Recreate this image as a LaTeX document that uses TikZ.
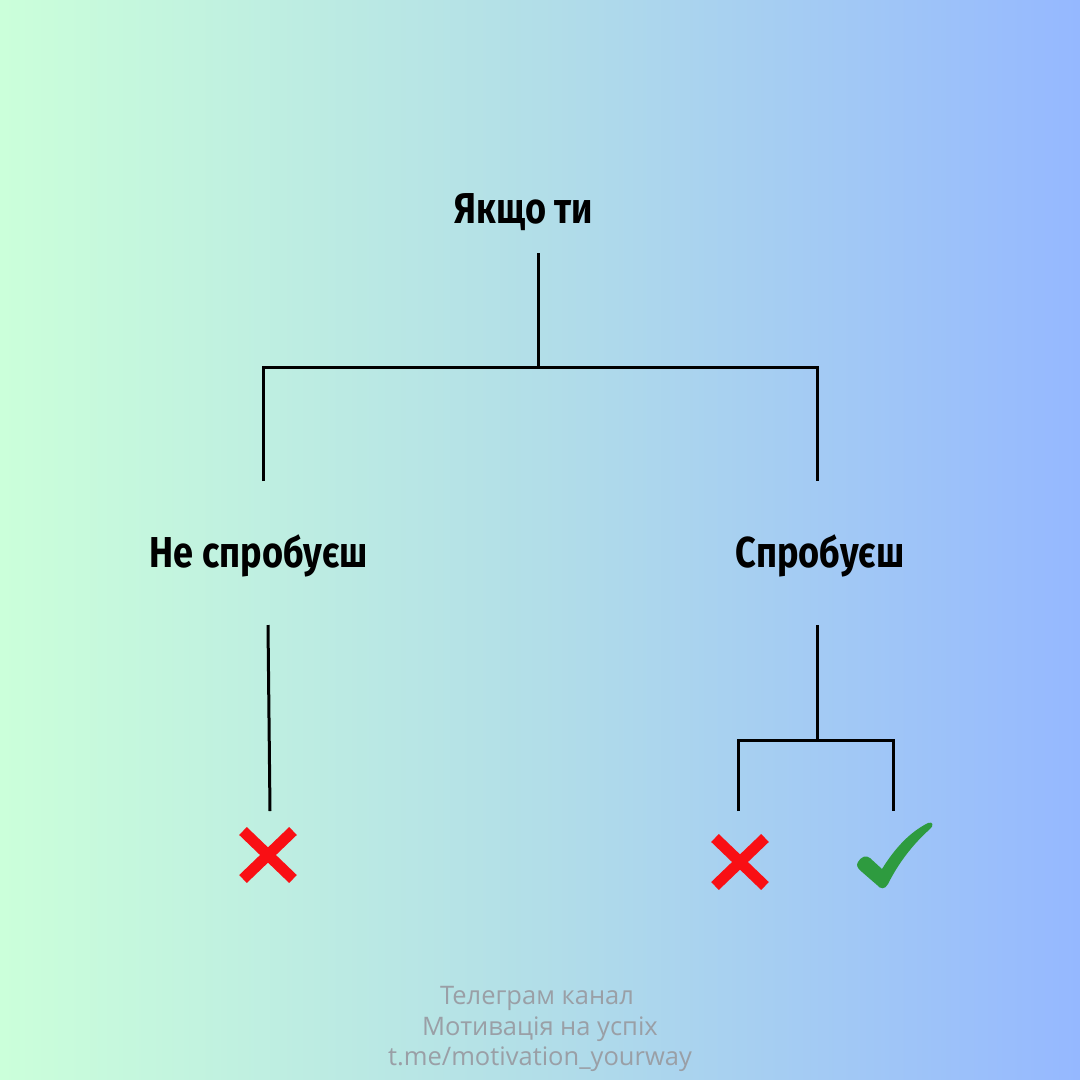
\documentclass[tikz,border=0pt]{standalone}
\usepackage{fontspec}
\usetikzlibrary{calc}
\setmainfont{Fira Sans}
\newfontfamily\footfont{Open Sans}
\definecolor{bgleft}{HTML}{CBFFDA}
\definecolor{bgright}{HTML}{95B8FF}
\definecolor{xred}{HTML}{F90F14}
\definecolor{okgreen}{HTML}{2E9B3F}
\definecolor{footgray}{HTML}{9A9FA6}
\newcommand{\narrowtxt}[1]{\scalebox{0.86}[1.03]{#1}}
\tikzset{
  lbl/.style={font=\fontsize{42}{46}\selectfont\bfseries, text=black, inner sep=0pt},
  conn/.style={line width=3pt, draw=black},
  cross/.style={line width=11pt, draw=xred},
  foot/.style={font=\footfont\fontsize{25.5}{31}\selectfont, text=footgray, inner sep=0pt, align=center}
}
\begin{document}
\begin{tikzpicture}[x=1pt,y=-1pt]
\shade[left color=bgleft, right color=bgright, middle color={rgb,255:red,178;green,222;blue,232}] (0,0) rectangle (1080,1080);
\useasboundingbox (0,0) rectangle (1080,1080);
% labels
\node[lbl] (top) at (524,212) {\narrowtxt{Якщо ти}};
\node[lbl] (no) at (259,556) {\narrowtxt{Не спробуєш}};
\node[lbl] (yes) at (820,556) {\narrowtxt{Спробуєш}};
% coordinates
\coordinate (t1) at (538,253);
\coordinate (j1) at (538,367);
\coordinate (l1) at (263,367);
\coordinate (r1) at (817,367);
\coordinate (l2) at (263,481);
\coordinate (r2) at (817,481);
\coordinate (n1) at (268,625);
\coordinate (n2) at (270,811);
\coordinate (y1) at (817,625);
\coordinate (j2) at (817,740);
\coordinate (a1) at (738,740);
\coordinate (b1) at (893,740);
\coordinate (a2) at (738,811);
\coordinate (b2) at (893,811);
\draw[conn] (t1) -- (j1);
\draw[conn] (l2) -- (l1) -- (r1) -- (r2);
\draw[conn] (n1) -- (n2);
\draw[conn] (y1) -- (j2);
\draw[conn] (a2) -- (a1) -- (b1) -- (b2);
% crosses
\coordinate (x1) at (268,855);
\coordinate (x2) at (740,862);
\draw[cross] ($(x1)+(-25,-24)$) -- ($(x1)+(25,24)$) ($(x1)+(-25,24)$) -- ($(x1)+(25,-24)$);
\draw[cross] ($(x2)+(-25,-24)$) -- ($(x2)+(25,24)$) ($(x2)+(-25,24)$) -- ($(x2)+(25,-24)$);
% check
\fill[okgreen] (858,862) .. controls (862,856) and (866,855) .. (870,858)
  -- (882,869) .. controls (895,848) and (910,832) .. (928,823)
  .. controls (933,821) and (934,826) .. (930,829)
  .. controls (912,845) and (898,864) .. (888,884)
  .. controls (885,890) and (880,889) .. (877,885)
  -- (862,872) .. controls (857,868) and (856,865) .. (858,862) -- cycle;
% footer
\node[foot] (f1) at (537,998) {Телеграм канал};
\node[foot] (f2) at (540,1029) {Мотивація на успіх};
\node[foot] (f3) at (540,1059) {t.me/motivation\_yourway};
\end{tikzpicture}
\end{document}
